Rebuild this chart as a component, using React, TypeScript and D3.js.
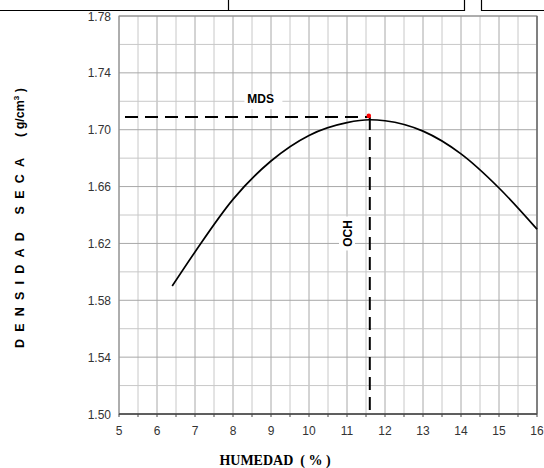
import React from 'react';
import * as d3 from 'd3';

// curve values
const humedad = [6.4, 7, 8, 9, 10, 11, 11.6, 12, 13, 14, 15, 16];
const densidad = [1.59, 1.614, 1.651, 1.678, 1.696, 1.705, 1.707, 1.7063, 1.699, 1.683, 1.659, 1.63];
const xTicks = [5, 6, 7, 8, 9, 10, 11, 12, 13, 14, 15, 16];
const yTicks = [1.5, 1.54, 1.58, 1.62, 1.66, 1.7, 1.74, 1.78];
const mds = 1.709;
const och = 11.6;

const W = 544;
const H = 468;
const margin = { top: 16, right: 7, bottom: 54, left: 119 };

export default function App() {
  const innerW = W - margin.left - margin.right;
  const innerH = H - margin.top - margin.bottom;

  const x = d3.scaleLinear().domain([5, 16]).range([margin.left, margin.left + innerW]);
  const y = d3.scaleLinear().domain([1.5, 1.78]).range([margin.top + innerH, margin.top]);

  const xGrid = d3.range(5, 16.01, 0.5);
  const yGrid = d3.range(0, 15).map(i => 1.5 + i * 0.02);

  const line = d3.line<number>()
    .x((d, i) => x(humedad[i]))
    .y(d => y(d))
    .curve(d3.curveMonotoneX);

  const font = 'Liberation Sans, Arial, sans-serif';

  return (
    <div style={{ position: 'absolute', left: 0, top: 0 }}>
      <svg width={W} height={H} style={{ display: 'block', background: '#fff' }}>
        {/* bits of the form above the chart */}
        <g stroke="#000" strokeWidth={1.2} fill="none">
          <path d="M0,10.5H464.5V0" />
          <path d="M228.5,0V10.5" />
          <path d="M481.5,0V10.5H544" />
        </g>

        {/* grid */}
        {xGrid.map(v => (
          <line key={'gx' + v} x1={x(v)} x2={x(v)} y1={y(1.5)} y2={y(1.78)}
            stroke={Math.abs(v - Math.round(v)) < 1e-6 ? '#a8a8a8' : '#c8c8c8'} strokeWidth={1} />
        ))}
        {yGrid.map((v, i) => (
          <line key={'gy' + i} x1={x(5)} x2={x(16)} y1={y(v)} y2={y(v)}
            stroke={i % 2 === 0 ? '#a8a8a8' : '#c8c8c8'} strokeWidth={1} />
        ))}
        <rect x={x(5)} y={y(1.78)} width={x(16) - x(5)} height={y(1.5) - y(1.78)}
          fill="none" stroke="#888" strokeWidth={1} />
        <line x1={x(5)} x2={x(16)} y1={y(1.5)} y2={y(1.5)} stroke="#444" strokeWidth={1.3} />
        <line x1={x(16)} x2={x(16)} y1={y(1.5)} y2={y(1.78)} stroke="#555" strokeWidth={1} />
        {xGrid.map(v => (
          <line key={'tx' + v} x1={x(v)} x2={x(v)} y1={y(1.5)} y2={y(1.5) + 3} stroke="#444" strokeWidth={1} />
        ))}

        {/* tick labels */}
        {yTicks.map(v => (
          <text key={'ly' + v} x={x(5) - 8} y={y(v) + 4.5} textAnchor="end"
            fontFamily={font} fontSize={12} fill="#333">{v.toFixed(2)}</text>
        ))}
        {xTicks.map(v => (
          <text key={'lx' + v} x={x(v)} y={y(1.5) + 21} textAnchor="middle"
            fontFamily={font} fontSize={12} fill="#333">{v}</text>
        ))}

        {/* curve */}
        <path d={line(densidad) || ''} fill="none" stroke="#000" strokeWidth={1.7} />

        {/* MDS / OCH guides */}
        <line x1={x(5) + 6} x2={x(och)} y1={y(mds)} y2={y(mds)}
          stroke="#000" strokeWidth={2} strokeDasharray="13,7" />
        <line x1={x(och)} x2={x(och)} y1={y(mds)} y2={y(1.5)}
          stroke="#000" strokeWidth={2} strokeDasharray="13,7" />
        <circle cx={x(och) - 1} cy={y(mds) - 1} r={2.3} fill="#ff0000" />

        <rect x={x(8.3)} y={y(1.725)} width={38} height={15} fill="#fff" />
        <text x={x(8.7) + 1} y={y(1.7185)} textAnchor="middle" fontFamily={font} fontSize={12} fontWeight="bold" fill="#000">MDS</text>

        <g transform={`translate(${x(11.0)},${y(1.627)}) rotate(-90)`}>
          <rect x={-17} y={-8} width={34} height={16} fill="#fff" />
          <text x={0} y={4.5} textAnchor="middle" fontFamily={font} fontSize={12} fontWeight="bold" fill="#000">OCH</text>
        </g>

        {/* axis titles */}
        <text x={275} y={465} textAnchor="middle" fontFamily="Liberation Serif, Times New Roman, serif"
          fontSize={14} fontWeight="bold" fill="#000" style={{ whiteSpace: 'pre' }}>HUMEDAD  ( % )</text>
        <g transform="translate(24,218) rotate(-90)">
          <text x={0} y={0} textAnchor="middle" fontFamily={font} fontSize={12.5} fontWeight="bold" fill="#000"
            style={{ whiteSpace: 'pre' }}>
            <tspan letterSpacing={7.2}>DENSIDAD SECA</tspan>
            <tspan>{'    ( g/cm'}</tspan>
            <tspan fontSize={8} dy={-5}>3</tspan>
            <tspan dy={5}>{' )'}</tspan>
          </text>
        </g>
      </svg>
    </div>
  );
}
